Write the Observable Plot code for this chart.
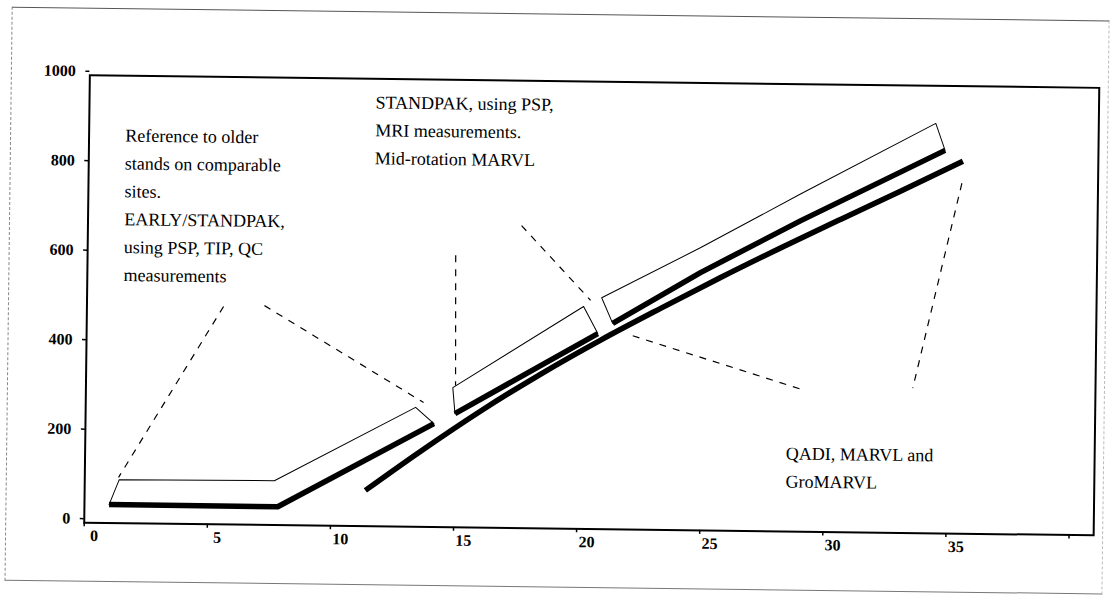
<!DOCTYPE html>
<html>
<head>
<meta charset="utf-8">
<script src="https://cdn.jsdelivr.net/npm/d3@7"></script>
<script src="https://cdn.jsdelivr.net/npm/@observablehq/plot@0.6"></script>
<style>
  html, body { margin: 0; padding: 0; background: #fff; }
  #wrap { position: relative; width: 1113px; height: 599px; overflow: visible;
          transform: rotate(0.72deg); transform-origin: 591px 305px; }
  #border { position: absolute; left: 8px; top: 14px; width: 1098px; height: 574px;
            border-top: 1px solid #555; border-left: 1px dashed #888;
            border-bottom: 1px solid #777; border-right: 1px dashed #bbb; box-sizing: border-box; }
  #chart { position: absolute; left: 0; top: 0; }
</style>
</head>
<body>
<div id="wrap"><div id="border"></div><div id="chart"></div></div>
<script>
// Axis ticks
const xTicks = [0, 5, 10, 15, 20, 25, 30, 35, 40];
const xTickLabels = ["0", "5", "10", "15", "20", "25", "30", "35", ""];
const yTicks = [0, 200, 400, 600, 800, 1000];
const yTickLabels = ["0", "200", "400", "600", "800", "1000"];

// Continuous lower growth line
const lowerX = [11.4, 13.6, 16.0, 18.5, 20.9, 23.3, 25.7, 28.2, 30.6, 33.0, 35.5];
const lowerY = [80, 168, 259, 346, 423, 495, 565, 635, 700, 764, 832];

// Band A: early / standpak (bottom thick edge and thin top edge)
const bandALowX = [1.0, 7.85, 14.15];
const bandALowY = [41, 41, 231];
const bandAHighX = [1.4, 7.7, 13.4];
const bandAHighY = [97, 99, 267];

// Band B: mid-rotation
const bandBLowX = [15.0, 20.76];
const bandBLowY = [254, 437];
const bandBHighX = [14.9, 20.17];
const bandBHighY = [312, 497];

// Band C: QADI / MARVL
const bandCLowX = [21.36, 24.9, 28.95, 34.77];
const bandCLowY = [460, 576, 695, 856];
const bandCHighX = [20.9, 24.9, 28.94, 34.38];
const bandCHighY = [517, 632, 755, 916];

// Dashed leader lines (start / end)
const leaderX1 = [5.55, 7.21, 14.95, 17.61, 22.18, 35.47];
const leaderY1 = [487, 490, 608, 676, 433, 783];
const leaderX2 = [1.37, 13.72, 15.01, 20.45, 29.24, 33.58];
const leaderY2 = [102, 278, 317, 511, 315, 324];

// Annotations
const noteText = [
  "Reference to older\nstands on comparable\nsites.\nEARLY/STANDPAK,\nusing PSP, TIP, QC\nmeasurements",
  "STANDPAK, using PSP,\nMRI measurements.\nMid-rotation MARVL",
  "QADI, MARVL and\nGroMARVL"
];
const noteX = [1.47, 11.62, 28.46];
const noteY = [897, 978, 205];

// Build tables
const zip = (xs, ys, id) => xs.map((x, i) => ({x, y: ys[i], id}));
const bands = [
  ["A", bandALowX, bandALowY, bandAHighX, bandAHighY],
  ["B", bandBLowX, bandBLowY, bandBHighX, bandBHighY],
  ["C", bandCLowX, bandCLowY, bandCHighX, bandCHighY]
];
const polys = bands.flatMap(([id, lx, ly, hx, hy]) =>
  zip(lx, ly, id).concat(zip(hx, hy, id).reverse()));
const thick = bands.flatMap(([id, lx, ly]) => zip(lx, ly, id));
const lower = zip(lowerX, lowerY, "L");
const leaders = leaderX1.map((x, i) => ({x1: x, y1: leaderY1[i], x2: leaderX2[i], y2: leaderY2[i]}));
const notes = noteText.map((t, i) => ({t, x: noteX[i], y: noteY[i]}));

const chart = Plot.plot({
  width: 1113,
  height: 599,
  marginLeft: 86.5,
  marginRight: 17,
  marginTop: 81,
  marginBottom: 70.5,
  x: {domain: [0, 41]},
  y: {domain: [0, 1000]},
  style: {fontFamily: "'Liberation Serif', 'DejaVu Serif', serif", color: "#000", background: "transparent"},
  marks: [
    Plot.axisX(xTicks, {tickSize: 4, tickFormat: () => "", label: null, strokeWidth: 1.5}),
    Plot.axisX(xTicks, {tickSize: 0, tickPadding: 7, dx: 10, tickFormat: (d, i) => xTickLabels[i], label: null, fontSize: 16, fontWeight: "bold"}),
    Plot.axisY(yTicks, {tickSize: 4, tickPadding: 10, dy: -4, tickFormat: (d, i) => yTickLabels[i], label: null, fontSize: 16, fontWeight: "bold", strokeWidth: 1.5}),
    Plot.frame({stroke: "#000", strokeWidth: 2}),
    Plot.line(polys, {x: "x", y: "y", z: "id", curve: "linear-closed", fill: "white", stroke: "#000", strokeWidth: 1}),
    Plot.line(thick, {x: "x", y: "y", z: "id", stroke: "#000", strokeWidth: 5.5, curve: "linear", strokeLinecap: "butt", strokeLinejoin: "round"}),
    Plot.line(lower, {x: "x", y: "y", stroke: "#000", strokeWidth: 5.5, curve: "monotone-x", strokeLinecap: "butt"}),
    Plot.link(leaders, {x1: "x1", y1: "y1", x2: "x2", y2: "y2", stroke: "#000", strokeWidth: 1.2, strokeDasharray: "7,7"}),
    Plot.text(notes, {x: "x", y: "y", text: "t", textAnchor: "start", lineAnchor: "top", lineHeight: 1.55, fontSize: 18, fill: "#000"})
  ]
});
document.getElementById("chart").appendChild(chart);
</script>
</body>
</html>
